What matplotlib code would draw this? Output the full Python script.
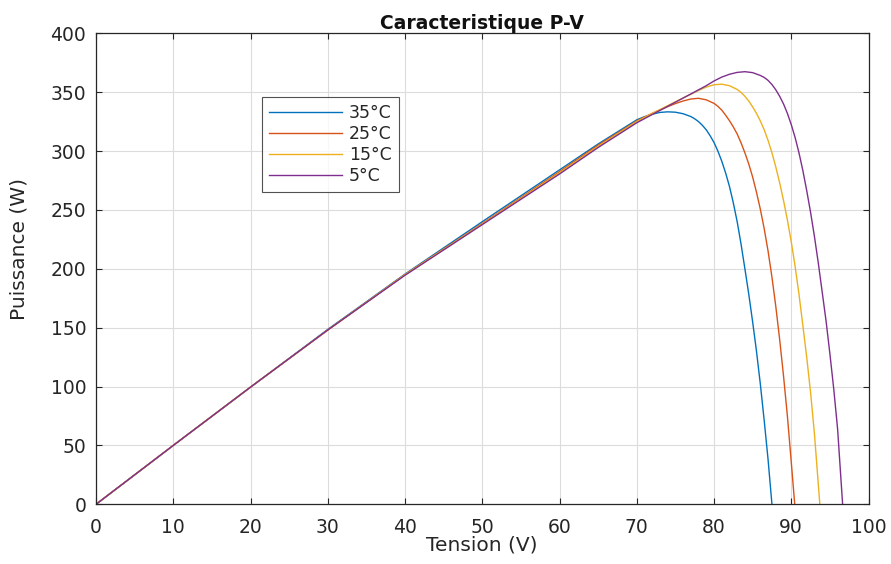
import matplotlib
matplotlib.use("Agg")
import matplotlib.pyplot as plt

plt.rcParams['font.family'] = ['DejaVu Sans']

# --- data (Tension V, Puissance W) ---
v_35 = [0, 10, 20, 30, 40, 50, 60, 65, 70, 71, 72, 73, 74, 75, 76, 77, 77.5, 78, 78.5, 79, 79.5, 80,
        80.5, 81, 81.5, 82, 82.5, 83, 83.5, 84, 84.5, 85, 85.5, 86, 86.5, 87, 87.5]
p_35 = [0, 50, 99.5, 148.5, 195.5, 240, 284, 306, 326.5, 329.2, 331.3, 332.8, 333.3, 333.0, 331.7, 329.3, 327.4, 325, 321.8, 318, 313, 307.3,
        300, 291.5, 281.5, 270, 256, 240, 221, 200, 178.5, 155, 130, 102, 71, 38, 0]

v_25 = [0, 10, 20, 30, 40, 50, 60, 65, 70, 72, 74, 75, 76, 77, 78, 79, 80, 80.5, 81, 81.5, 82, 82.5, 83, 83.5,
        84, 84.5, 85, 85.5, 86, 86.5, 87, 87.5, 88, 88.5, 89, 89.5, 90, 90.45]
p_25 = [0, 50, 99.5, 148, 195, 238.5, 282.5, 305, 325.5, 332, 337.7, 340.3, 342.5, 344.2, 344.8, 343.5, 340.5, 338, 334.8, 330.5, 325.8, 320.5, 314.5, 307,
        298.5, 289, 278, 265, 250.5, 234, 215, 193, 168, 140, 109, 75, 36, 0]

v_15 = [0, 10, 20, 30, 40, 50, 60, 65, 70, 72, 74, 76, 77, 78, 79, 80, 81, 82, 83, 83.5, 84, 84.5, 85, 85.5,
        86, 86.5, 87, 87.5, 88, 88.5, 89, 89.5, 90, 90.5, 91, 91.5, 92, 92.5, 93, 93.7]
p_15 = [0, 50, 99.5, 148, 195, 238, 281.5, 304, 325, 332, 338.5, 345, 348.2, 351.5, 354.3, 356.3, 356.8, 355.5, 352.3, 349.8, 346.5, 342.5, 337.5, 332,
        325.5, 318, 309, 298.5, 286.5, 273, 258, 241.5, 223, 202, 178.5, 152, 125, 95, 60, 0]

v_5 = [0, 10, 20, 30, 40, 50, 60, 65, 70, 72, 74, 76, 78, 79, 80, 81, 82, 83, 84, 85, 86, 86.5, 87, 87.5,
       88, 88.5, 89, 89.5, 90, 90.5, 91, 91.5, 92, 92.5, 93, 93.5, 94, 94.5, 95, 95.5, 96, 96.65]
p_5 = [0, 50, 99.5, 148, 194.5, 237.5, 280.5, 303, 324, 331, 338, 345, 352, 355.5, 359.5, 362.8, 365.2, 366.8, 367.4, 366.6, 364.2, 362.5, 360, 356.5,
       352, 346.5, 340, 332, 322.5, 311.5, 298.5, 283.5, 266.5, 248, 227.5, 205, 180.5, 156, 128, 98, 64, 0]

labels = ['35°C', '25°C', '15°C', '5°C']
colors = ['#0072BD', '#D95319', '#EDB120', '#7E2F8E']

x_ticks = [0, 10, 20, 30, 40, 50, 60, 70, 80, 90, 100]
y_ticks = [0, 50, 100, 150, 200, 250, 300, 350, 400]

fig = plt.figure(figsize=(8.91, 5.64), dpi=100)
ax = fig.add_axes([96 / 891, (564 - 504.3) / 564, 772.5 / 891, 471 / 564])

for v, p, lab, c in zip([v_35, v_25, v_15, v_5], [p_35, p_25, p_15, p_5], labels, colors):
    ax.plot(v, p, color=c, lw=1.0, label=lab)

ax.set_xlim(0, 100)
ax.set_ylim(0, 400)
ax.set_xticks(x_ticks)
ax.set_yticks(y_ticks)
ax.grid(True, color='#dcdcdc', lw=0.8)
ax.set_axisbelow(True)
ax.tick_params(direction='in', top=True, right=True, length=4, width=0.8,
               colors='#262626', labelsize=13.5)
ax.tick_params(axis='x', pad=10)
ax.tick_params(axis='y', pad=7)
for s in ax.spines.values():
    s.set_color('#262626')
    s.set_linewidth(0.9)

ax.set_xlabel('Tension (V)', fontsize=14.5, color='#262626', labelpad=-1)
ax.set_ylabel('Puissance (W)', fontsize=14.5, color='#262626')
ax.yaxis.set_label_coords(-0.088, 0.542)
ax.set_title('Caracteristique P-V', fontsize=13.5, fontweight='bold', color='#111111', pad=3)

leg = ax.legend(loc='upper left', bbox_to_anchor=(0.2149, 0.8648), fontsize=12.5,
                frameon=True, fancybox=False, handlelength=4.2, handletextpad=0.4,
                borderpad=0.4, labelspacing=0.18, borderaxespad=0)
leg.get_frame().set_edgecolor('#262626')
leg.get_frame().set_linewidth(0.8)
for t in leg.get_texts():
    t.set_color('#262626')

fig.savefig('out.png', dpi=100)
